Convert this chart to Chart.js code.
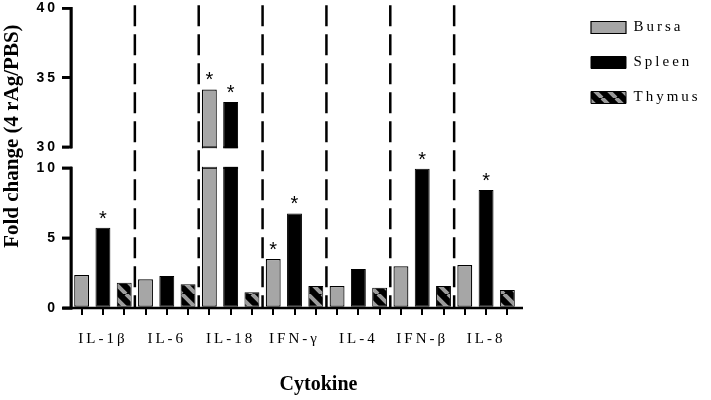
<!DOCTYPE html>
<html>
<head>
<meta charset="utf-8">
<title>Cytokine fold change</title>
<script src="https://cdn.jsdelivr.net/npm/chart.js@4.4.0/dist/chart.umd.min.js"></script>
<style>
  html, body { margin: 0; padding: 0; background: #fff; }
</style>
</head>
<body>
<canvas id="cytokineChart" width="711" height="400"></canvas>
<script>
// --- values ---
const cytokines = ['IL-1β', 'IL-6', 'IL-18', 'IFN-γ', 'IL-4', 'IFN-β', 'IL-8'];
const bursaValues  = [2.36, 2.05, 34.15, 3.50, 1.57, 2.98, 3.07];
const spleenValues = [5.74, 2.29, 33.24, 6.76, 2.79, 9.95, 8.43];
const thymusValues = [1.81, 1.69, 1.12, 1.57, 1.45, 1.57, 1.29];

// asterisks (significant vs PBS)
const bursaStars  = [false, false, true, true, false, false, false];
const spleenStars = [true, false, true, true, false, true, true];
const thymusStars = [false, false, false, false, false, false, false];

const yTickValues = [0, 5, 10, 30, 35, 40];
const axisBreak = [10, 30];   // nothing shown between these two values

// share of the plot height given to the lower part and to the gap
const lowerShare = 140 / 300;
const gapShare = 21 / 300;

const mainCtx = document.getElementById('cytokineChart').getContext('2d');

// black bars with grey "\" stripes for thymus
function makeHatch() {
    const s = 14;
    const c = document.createElement('canvas');
    c.width = s; c.height = s;
    const g = c.getContext('2d');
    g.fillStyle = '#000';
    g.fillRect(0, 0, s, s);
    g.strokeStyle = '#9b9b9b';
    g.lineWidth = 4;
    g.beginPath();
    for (let k = -1; k <= 1; k++) {
        g.moveTo(k * s, 0);
        g.lineTo(k * s + s, s);
    }
    g.stroke();
    return mainCtx.createPattern(c, 'repeat');
}

// three slots per cytokine: bursa, spleen, thymus
const slotLabels = [];
cytokines.forEach(name => slotLabels.push('', name, ''));

function toSlots(values, offset) {
    const out = new Array(cytokines.length * 3).fill(null);
    values.forEach((v, i) => { out[i * 3 + offset] = v; });
    return out;
}
const starsBySeries = [bursaStars, spleenStars, thymusStars];

function withoutSpacing(ctx, fn) {
    const old = ctx.letterSpacing;
    ctx.letterSpacing = '0px';
    ctx.save();
    fn();
    ctx.restore();
    ctx.letterSpacing = old;
}

// linear scale with a broken range (0-10 below, 30-40 above)
class BrokenLinearScale extends Chart.LinearScale {
    static id = 'brokenLinear';
    valueToDecimal(v) {
        const [lo, hi] = axisBreak;
        const min = this.min, max = this.max;
        if (v <= lo) return (v - min) / (lo - min) * lowerShare;
        if (v >= hi) return lowerShare + gapShare + (v - hi) / (max - hi) * (1 - lowerShare - gapShare);
        return lowerShare + (v - lo) / (hi - lo) * gapShare;
    }
    getPixelForValue(v) {
        if (v === null || v === undefined || isNaN(v)) return NaN;
        return this.getPixelForDecimal(this.valueToDecimal(v));
    }
    drawTitle() {
        withoutSpacing(this.ctx, () => {
            this.ctx.translate(0, -22);
            super.drawTitle();
        });
    }
}

class SpacedCategoryScale extends Chart.CategoryScale {
    static id = 'spacedCategory';
    drawTitle() {
        withoutSpacing(this.ctx, () => {
            this.ctx.translate(24, 0);
            super.drawTitle();
        });
    }
}
Chart.register(BrokenLinearScale, SpacedCategoryScale);

// the figure's labels are letter-spaced; legend gets a fixed width
const spacingPlugin = {
    id: 'spacing',
    afterInit(chart) {
        const legend = chart.legend;
        if (legend) {
            const fit = legend.fit;
            legend.fit = function () { fit.call(this); this.width = 130; };
        }
    },
    beforeLayout(chart) { chart.ctx.letterSpacing = '3px'; },
    beforeDraw(chart) { chart.ctx.letterSpacing = '3px'; }
};

function drawYAxis(chart) {
    const { ctx, chartArea, scales: { y } } = chart;
    const left = chartArea.left;
    const yHi = y.getPixelForValue(axisBreak[1]);
    const yLo = y.getPixelForValue(axisBreak[0]);
    ctx.save();
    ctx.globalCompositeOperation = 'source-over';
    ctx.globalAlpha = 1;
    ctx.setLineDash([]);
    ctx.strokeStyle = '#000';
    ctx.lineWidth = 2.5;
    ctx.beginPath();
    ctx.moveTo(left, y.getPixelForValue(yTickValues[yTickValues.length - 1]) - 1.25);
    ctx.lineTo(left, yHi + 1.25);
    ctx.moveTo(left, yLo - 1.25);
    ctx.lineTo(left, y.getPixelForValue(yTickValues[0]) + 1.25);
    yTickValues.forEach(v => {
        const py = y.getPixelForValue(v);
        ctx.moveTo(left - 9, py);
        ctx.lineTo(left, py);
    });
    ctx.stroke();
    ctx.restore();
}

const breakPlugin = {
    id: 'axisBreak',
    afterDatasetsDraw(chart) {
        const { ctx, chartArea, scales: { y } } = chart;
        const yHi = y.getPixelForValue(axisBreak[1]);
        const yLo = y.getPixelForValue(axisBreak[0]);
        ctx.save();
        ctx.fillStyle = '#fff';
        ctx.fillRect(chartArea.left - 2, yHi + 1.25, chartArea.right - chartArea.left + 2, yLo - yHi - 2.5);

        // close the cut bars
        chart.data.datasets.forEach((ds, di) => {
            const meta = chart.getDatasetMeta(di);
            meta.data.forEach((bar, i) => {
                const v = ds.data[i];
                if (v === null || v <= axisBreak[0]) return;
                ctx.strokeStyle = '#000';
                ctx.lineWidth = 1.2;
                ctx.beginPath();
                ctx.moveTo(bar.x - bar.width / 2, yHi);
                ctx.lineTo(bar.x + bar.width / 2, yHi);
                ctx.moveTo(bar.x - bar.width / 2, yLo);
                ctx.lineTo(bar.x + bar.width / 2, yLo);
                ctx.stroke();
            });
        });

        // asterisks
        ctx.letterSpacing = '0px';
        ctx.font = '20px "Liberation Sans"';
        ctx.fillStyle = '#000';
        ctx.textAlign = 'center';
        ctx.textBaseline = 'alphabetic';
        chart.data.datasets.forEach((ds, di) => {
            const meta = chart.getDatasetMeta(di);
            meta.data.forEach((bar, i) => {
                if (ds.data[i] === null) return;
                if (starsBySeries[di][Math.floor(i / 3)]) ctx.fillText('*', bar.x, bar.y - 3);
            });
        });
        ctx.restore();
        drawYAxis(chart);
    },
    afterDraw(chart) {
        const { ctx, chartArea, scales: { x } } = chart;
        ctx.save();
        ctx.strokeStyle = '#000';

        // dashed separators between cytokines
        ctx.lineWidth = 2.5;
        ctx.setLineDash([21, 8]);
        for (let k = 1; k < cytokines.length; k++) {
            const xb = (x.getPixelForValue(k * 3 - 1) + x.getPixelForValue(k * 3)) / 2;
            ctx.beginPath();
            ctx.moveTo(xb, chartArea.top - 3);
            ctx.lineTo(xb, chartArea.bottom);
            ctx.stroke();
        }
        ctx.setLineDash([]);

        // x axis
        ctx.beginPath();
        ctx.moveTo(chartArea.left - 8, chartArea.bottom);
        ctx.lineTo(chartArea.right + 5, chartArea.bottom);
        ctx.stroke();
        ctx.restore();
    }
};

// last word on the y axis
const yAxisPlugin = {
    id: 'yAxisLine',
    afterDraw(chart) { drawYAxis(chart); }
};

const hatch = makeHatch();
const serif = 'Liberation Serif';

const cytokineChart = new Chart(mainCtx, {
    type: 'bar',
    data: {
        labels: slotLabels,
        datasets: [
            {
                label: 'Bursa',
                data: toSlots(bursaValues, 0),
                backgroundColor: '#a6a6a6',
                borderColor: '#000',
                borderWidth: 1.2
            },
            {
                label: 'Spleen',
                data: toSlots(spleenValues, 1),
                backgroundColor: '#000',
                borderColor: '#000',
                borderWidth: 1
            },
            {
                label: 'Thymus',
                data: toSlots(thymusValues, 2),
                backgroundColor: hatch,
                borderColor: '#000',
                borderWidth: 1
            }
        ]
    },
    options: {
        responsive: false,
        animation: false,
        devicePixelRatio: 1,
        events: [],
        layout: { padding: { top: 0, right: 10, bottom: 0, left: 0 } },
        datasets: {
            bar: {
                grouped: false,
                barPercentage: 0.7,
                categoryPercentage: 1.0,
                borderSkipped: false
            }
        },
        scales: {
            x: {
                type: 'spacedCategory',
                grid: { offset: false, drawOnChartArea: false, tickLength: 7, color: '#000', lineWidth: 2 },
                border: { display: false },
                ticks: {
                    autoSkip: false, maxRotation: 0, padding: 15, color: '#000',
                    font: { family: serif, size: 15 }
                },
                title: {
                    display: true, text: 'Cytokine', color: '#000',
                    font: { family: serif, size: 20, weight: 'bold' },
                    padding: { top: 0, bottom: 3 }
                },
                afterFit: s => { s.height = 92; }
            },
            y: {
                type: 'brokenLinear',
                min: 0,
                max: 40,
                afterBuildTicks: s => { s.ticks = yTickValues.map(v => ({ value: v })); },
                grid: { drawOnChartArea: false, tickLength: 9, color: '#000', lineWidth: 2.5 },
                border: { display: true, color: '#000', width: 2.5 },
                ticks: {
                    autoSkip: false, padding: 4, color: '#000',
                    font: { family: 'Liberation Sans', size: 14, weight: 'bold', lineHeight: 0.6 },
                    callback: v => String(v)
                },
                title: {
                    display: true, text: 'Fold change (4 rAg/PBS)', color: '#000',
                    font: { family: serif, size: 21, weight: 'bold' },
                    padding: { top: 0, bottom: 0 }
                },
                afterFit: s => { s.width = 71; }
            },
            gapRight: {
                type: 'linear', position: 'right', display: true,
                grid: { display: false }, border: { display: false }, ticks: { display: false },
                afterFit: s => { s.width = 53; }
            }
        },
        plugins: {
            tooltip: { enabled: false },
            legend: {
                position: 'right',
                align: 'start',
                labels: {
                    boxWidth: 35,
                    boxHeight: 12,
                    padding: 20,
                    color: '#000',
                    font: { family: serif, size: 15 }
                }
            }
        }
    },
    plugins: [spacingPlugin, breakPlugin, yAxisPlugin]
});
</script>
</body>
</html>
